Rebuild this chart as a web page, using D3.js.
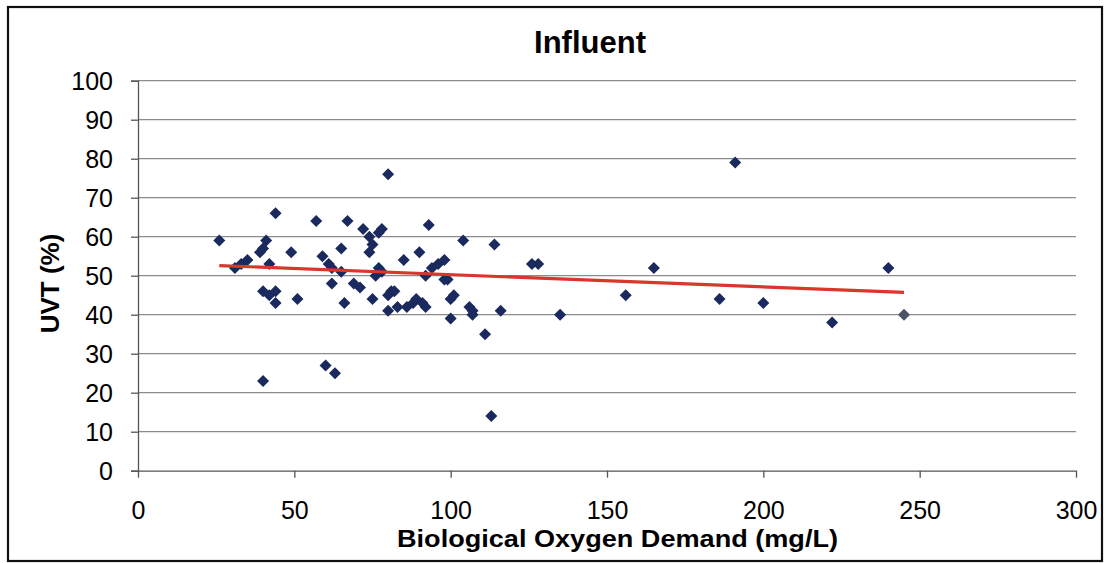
<!DOCTYPE html>
<html><head><meta charset="utf-8">
<script src="https://cdn.jsdelivr.net/npm/d3@7"></script>
<style>
html,body{margin:0;padding:0;background:#fff;}
svg text{font-family:"Liberation Sans",Arial,sans-serif;fill:#000;}
</style></head>
<body><svg id="c" width="1106" height="563"></svg>
<script>
// BOD (mg/L)
const bod = [26,31,33,35,39,40,41,42,40,42,44,44,44,40,49,51,57,59,61,62,65,65,60,63,62,66,67,69,71,72,74,75,77,78,74,77,76,78,75,80,81,82,80,80,83,86,88,89,91,92,85,90,92,93,94,96,98,98,99,100,101,100,104,106,107,107,111,113,114,116,126,128,135,156,165,186,191,200,222,240,245];
// UVT (%)
const uvt = [59,52,53,54,56,57,59,53,46,45,46,43,66,23,56,44,64,55,53,52,51,57,27,25,48,43,64,48,47,62,60,58,61,62,56,52,50,51,44,45,46,46,76,41,42,42,43,44,43,42,54,56,50,63,52,53,54,49,49,44,45,39,59,42,41,40,35,14,58,41,53,53,40,45,52,44,79,43,38,52,40];
const trendX = [26, 245];
const trendY = [52.6, 45.7];
const xTicks = [0,50,100,150,200,250,300];
const yTicks = [0,10,20,30,40,50,60,70,80,90,100];
const title = "Influent";
const xTitle = "Biological Oxygen Demand (mg/L)";
const yTitle = "UVT (%)";

const svg = d3.select("#c");
svg.append("rect").attr("x",8).attr("y",7).attr("width",1094).attr("height",554)
  .attr("fill","#fff").attr("stroke","#111").attr("stroke-width",2.2);

const x = d3.scaleLinear().domain([0,300]).range([138,1076]);
const y = d3.scaleLinear().domain([0,100]).range([470.7,80.7]);

// gridlines
svg.append("g").selectAll("line").data(yTicks.filter(d=>d>0)).join("line")
  .attr("x1",x(0)).attr("x2",x(300)).attr("y1",d=>y(d)).attr("y2",d=>y(d))
  .attr("stroke","#8c8c8c").attr("stroke-width",1.3);

// y axis
const ya = svg.append("g").attr("transform",`translate(${x(0)},0)`)
  .call(d3.axisLeft(y).tickValues(yTicks).tickSize(7).tickPadding(18).tickFormat(d3.format("d")));
ya.select(".domain").attr("stroke","#555").attr("stroke-width",1.3);
ya.selectAll(".tick line").attr("stroke","#555").attr("stroke-width",1.3);
ya.selectAll("text").attr("font-size",25).attr("fill","#000").attr("dy","0.36em");

// x axis
const xa = svg.append("g").attr("transform",`translate(0,${y(0)})`)
  .call(d3.axisBottom(x).tickValues(xTicks).tickSize(7).tickPadding(24).tickSizeOuter(0));
xa.select(".domain").attr("stroke","#555").attr("stroke-width",1.3);
xa.selectAll(".tick line").attr("stroke","#555").attr("stroke-width",1.3);
xa.selectAll("text").attr("font-size",25).attr("fill","#000");

// points
const pts = bod.map((b,i)=>({b, u:uvt[i], last: i===bod.length-1}));
svg.append("g").selectAll("path").data(pts).join("path")
  .attr("d", d3.symbol().type(d3.symbolDiamond2).size(92))
  .attr("transform", d=>`translate(${x(d.b)},${y(d.u)})`)
  .attr("fill", d=>d.last ? "#4d5466" : "#1b2a5e");

// trendline
svg.append("path").datum(trendX.map((v,i)=>[v,trendY[i]]))
  .attr("d", d3.line().x(d=>x(d[0])).y(d=>y(d[1])))
  .attr("stroke","#d9362c").attr("stroke-width",3.2).attr("fill","none");

// titles
svg.append("text").attr("x",590).attr("y",53).attr("text-anchor","middle")
  .attr("font-size",31).attr("font-weight","bold").text(title);
svg.append("text").attr("x",617.5).attr("y",547).attr("text-anchor","middle")
  .attr("font-size",23).attr("font-weight","bold")
  .attr("textLength",441).attr("lengthAdjust","spacingAndGlyphs").text(xTitle);
svg.append("text").attr("transform","translate(59,283.5) rotate(-90)").attr("text-anchor","middle")
  .attr("font-size",26).attr("font-weight","bold").text(yTitle);
</script></body></html>
